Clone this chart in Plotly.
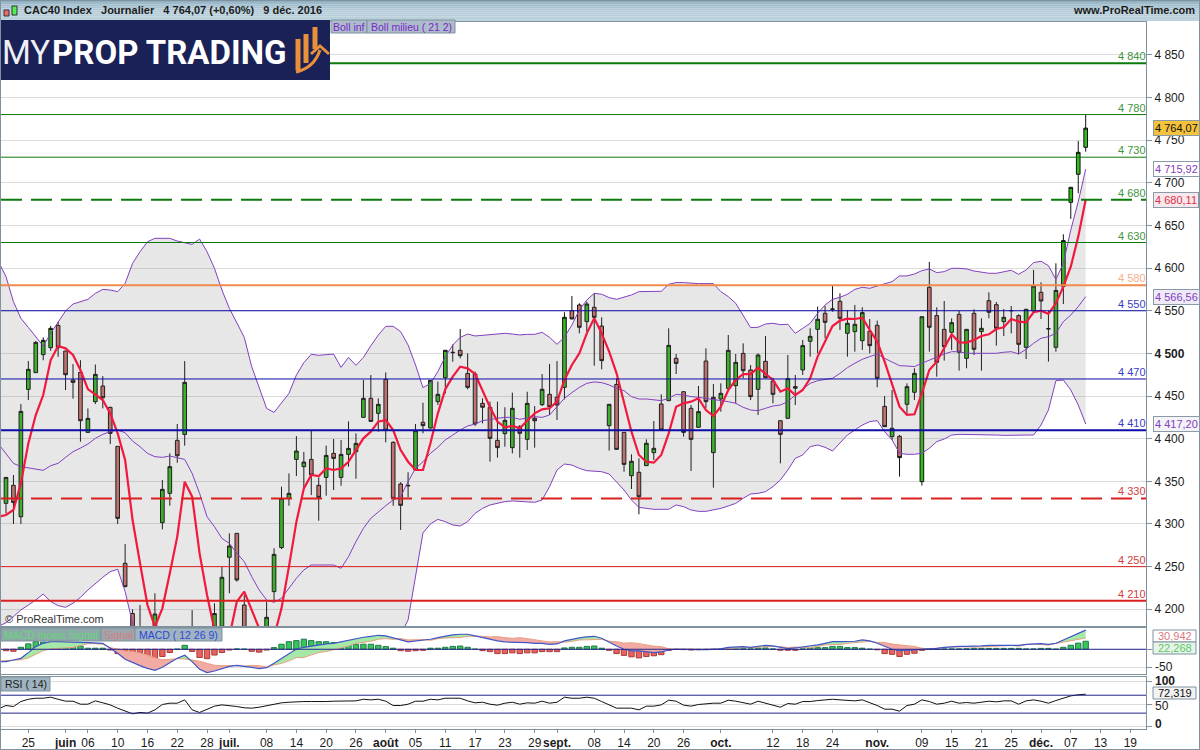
import plotly.graph_objects as go
from plotly.subplots import make_subplots

# CAC40 daily candles, one row per trading day from 20 May 2016
opens = [4324.2, 4345.3, 4308.5, 4457.8, 4477.4, 4498.5, 4506.7, 4532.8, 4502.8, 4468.8,
         4477.8, 4407.4, 4443.4, 4461.7, 4436.7, 4391, 4253.9, 4195, 4175, 4165,
         4175, 4301.5, 4335.9, 4398, 4405, 4150, 4075, 4020, 4130, 4180,
         4261, 4289, 4205, 4140, 4170, 4165, 4220.7, 4272.3, 4330, 4375.7,
         4367.2, 4375.7, 4345.3, 4354.6, 4382.8, 4354.6, 4381.6, 4384.7, 4425, 4447.3,
         4429.7, 4469.5, 4395.7, 4346.9, 4344.6, 4363.3, 4419.2, 4412.5, 4443.4, 4471.5,
         4500.8, 4503.6, 4476.6, 4475.8, 4441.4, 4436.8, 4398, 4405.9, 4389.5, 4414,
         4399.2, 4423.9, 4439.9, 4452, 4448.5, 4460.2, 4550.1, 4556.8, 4537.2, 4554,
         4532.1, 4415.3, 4463.7, 4407.4, 4356.6, 4360.6, 4368.4, 4383.6, 4440.7, 4444.6,
         4494.2, 4455.1, 4435.6, 4413.3, 4491, 4383.6, 4446.5, 4459, 4462.2, 4500,
         4480.5, 4457.9, 4490.7, 4467.6, 4421.1, 4423.9, 4459.2, 4480.6, 4514.2, 4528.2,
         4547, 4551.7, 4561, 4523.5, 4525.5, 4514.9, 4525.9, 4532.9, 4437.9, 4402.4,
         4402.8, 4440.3, 4454.4, 4349.6, 4577.5, 4544.3, 4528.2, 4524.7, 4545.8, 4494.2,
         4547, 4525.5, 4561.8, 4557.1, 4537.2, 4550, 4544.3, 4507.1, 4549.7, 4571.6,
         4528.6, 4507.1, 4578.3, 4677.1, 4710, 4741.6]
highs = [4354.6, 4357.4, 4440.6, 4491, 4514.5, 4518.8, 4532, 4537.2, 4502.8, 4487.5,
         4492, 4435.5, 4487, 4473.4, 4437.5, 4391, 4276.6, 4200, 4205, 4175,
         4218.7, 4351.5, 4382.8, 4417.2, 4491, 4199, 4080, 4100, 4207, 4250,
         4289, 4289, 4216.8, 4178, 4178, 4209, 4271.5, 4343.7, 4359.3, 4403,
         4384.4, 4409.4, 4354.6, 4391.8, 4399.6, 4398.4, 4420.3, 4406.2, 4468.8, 4474.6,
         4447.3, 4477.7, 4397, 4349, 4360.6, 4417.2, 4442.2, 4468.4, 4466.9, 4503.6,
         4510.6, 4528.6, 4500, 4478.6, 4447.3, 4443.4, 4443.4, 4436.8, 4454, 4416,
         4455, 4438.3, 4475.8, 4487.6, 4491, 4548.2, 4567.3, 4558.7, 4560.7, 4570.4,
         4542.3, 4440.3, 4470.8, 4407.4, 4381.7, 4376.9, 4399.2, 4420.7, 4452, 4529.4,
         4499.3, 4455.1, 4439.5, 4461.8, 4505.9, 4464.1, 4464.9, 4521.6, 4499.3, 4511.8,
         4486.4, 4500, 4520.4, 4471.5, 4421.1, 4498.1, 4474.7, 4515.7, 4529.4, 4554.8,
         4555.6, 4579, 4570.4, 4550.9, 4556.8, 4554, 4540.3, 4538.4, 4450, 4457,
         4404.4, 4464.9, 4482.5, 4543, 4607.2, 4554, 4561.4, 4541.1, 4550.1, 4528.2,
         4551.7, 4541.1, 4571.6, 4560.3, 4552, 4555.6, 4545.8, 4551.7, 4597.8, 4583.3,
         4550, 4605.6, 4639.6, 4694.7, 4749, 4780.3]
lows = [4312.4, 4300, 4300, 4445.3, 4477, 4492, 4503, 4496, 4457, 4446.9,
        4396.5, 4407, 4440.6, 4435.5, 4393.7, 4300, 4226, 4160, 4140, 4130,
        4160, 4293.7, 4321.4, 4371.8, 4391.8, 4050, 3955, 4010, 4120, 4170,
        4218.7, 4232.4, 4150, 4120, 4150, 4160, 4209, 4270.7, 4321.4, 4356.2,
        4341.7, 4333.9, 4303.8, 4333.2, 4339.8, 4344.9, 4367.2, 4353.1, 4425, 4420,
        4408.2, 4395.7, 4321.4, 4293, 4331.2, 4363.3, 4406.3, 4412, 4439.5, 4453,
        4490.3, 4494.2, 4457.9, 4414.9, 4418, 4373, 4377.7, 4390.6, 4382.8, 4377.7,
        4386.7, 4389.5, 4438.3, 4427.8, 4421.9, 4446.1, 4540, 4523.5, 4525.5, 4485.6,
        4481.3, 4386, 4387, 4361.3, 4341, 4311.3, 4368, 4375, 4409, 4444,
        4475.8, 4402.4, 4362.1, 4413, 4435.6, 4342.6, 4431.7, 4459, 4441.4, 4470.8,
        4445.4, 4427.8, 4470.8, 4441.4, 4371.1, 4423, 4439.5, 4474.7, 4496.2, 4500.1,
        4517.7, 4548.9, 4527.4, 4496.2, 4502, 4504, 4500.1, 4460.2, 4414, 4398.5,
        4355.5, 4427.8, 4445.4, 4345, 4502, 4472.7, 4491.5, 4504, 4479.8, 4482.5,
        4498.1, 4479.8, 4541.1, 4509.1, 4520.4, 4523.5, 4498.9, 4493.4, 4549, 4540.3,
        4490.3, 4502, 4557.9, 4657.6, 4687.7, 4736.5]
closes = [4354.6, 4325.3, 4432, 4481.3, 4512.9, 4515.3, 4529.3, 4506.7, 4475, 4466,
          4421, 4423.8, 4475.4, 4448, 4406.2, 4306.6, 4226.5, 4172, 4165, 4153,
          4194.5, 4340.6, 4367.2, 4380, 4466, 4106, 3985, 4088, 4195, 4237.5,
          4274.2, 4234.4, 4165, 4175, 4165, 4190.6, 4264.4, 4330, 4335.9, 4385.5,
          4372.6, 4357.4, 4331.2, 4380.4, 4376.9, 4381.6, 4388.6, 4394.5, 4447.3, 4420.3,
          4440.2, 4410.1, 4330, 4321.9, 4345.2, 4409.4, 4415.3, 4468.4, 4452, 4503.6,
          4501.2, 4497.3, 4460.2, 4417.2, 4436.8, 4400.4, 4389.5, 4421.5, 4435.6, 4406.3,
          4441.4, 4421, 4457.9, 4437.5, 4439.5, 4542.3, 4540.4, 4530.6, 4557.9, 4542.3,
          4491.5, 4440.3, 4387.5, 4369.9, 4373.5, 4332, 4394.6, 4388.7, 4410.2, 4509.4,
          4488.3, 4407.4, 4399.2, 4431.7, 4443.4, 4448.5, 4453.2, 4503.6, 4489.5, 4479.7,
          4449.3, 4498.1, 4471.5, 4452, 4405.1, 4470.4, 4461, 4509.1, 4520, 4540,
          4536.4, 4552, 4541.1, 4535.3, 4534.1, 4547.8, 4509.1, 4470.8, 4414.1, 4412.2,
          4377.8, 4461, 4476.6, 4543, 4530.6, 4489.5, 4507.9, 4536, 4501.3, 4528.2,
          4504.8, 4529.4, 4548.2, 4529.4, 4542.3, 4550.2, 4510.6, 4551.7, 4579, 4561.4,
          4529, 4573.9, 4632.2, 4694.7, 4735.7, 4764.07]

# Indicator lines, they start one session before the first visible candle
boll_up = [4607.5, 4590, 4560.6, 4541.1, 4530.5, 4519.6, 4508.6, 4523.5, 4537.2, 4549.7, 4557.9,
           4561, 4563.3, 4570.4, 4575, 4574.3, 4572.3, 4582.1, 4605.5, 4619.2, 4630.9,
           4634.9, 4635.2, 4634.9, 4631.7, 4629.8, 4627.8, 4634, 4619.2, 4599.7, 4574.3,
           4552.8, 4535.2, 4518.8, 4484.4, 4459, 4435.5, 4430.8, 4441.4, 4453.1, 4474.6,
           4489.1, 4498.9, 4497.7, 4498.5, 4499.2, 4483.6, 4495.3, 4486, 4495.3, 4509,
           4521.5, 4531.7, 4531.7, 4525.5, 4509.8, 4486.4, 4459.8, 4464.9, 4478.6, 4496.2,
           4509.8, 4518.8, 4522.7, 4520.4, 4521.2, 4522.3, 4523.1, 4523.5, 4522.7, 4521.6,
           4522.3, 4522.3, 4524.7, 4518.8, 4510.6, 4519, 4533.3, 4551, 4562.6, 4570.4,
           4569.3, 4565.4, 4563.4, 4565.8, 4568.5, 4572.4, 4572.8, 4572.8, 4572.8, 4581,
           4583, 4583, 4582.2, 4581.8, 4581.8, 4581.8, 4572.4, 4566.5, 4558.7, 4545,
           4530.2, 4530.6, 4534.5, 4535.3, 4533.7, 4534.1, 4523.5, 4529.4, 4535.3, 4547,
           4556.8, 4563.4, 4565.7, 4569.3, 4575.1, 4577.5, 4576.3, 4579, 4581.4, 4584.1,
           4590.8, 4590.8, 4593.1, 4597, 4599, 4594.7, 4595.8, 4599.7, 4599.7, 4599,
           4596.6, 4595.4, 4593.9, 4593.9, 4595.4, 4597.4, 4592.7, 4597.8, 4606.4, 4608,
           4602.9, 4586.8, 4605.6, 4644.7, 4677.9, 4715.92]
boll_mid = [4393.7, 4382.8, 4371.1, 4367.2, 4365.6, 4364, 4362.9, 4368.3, 4371.1, 4378.1, 4384.7,
            4389, 4393.7, 4400.4, 4405.1, 4408.2, 4410.1, 4407, 4397.2, 4390.6, 4382.8,
            4378.9, 4378.1, 4379.7, 4378.1, 4375.7, 4359.3, 4335.9, 4308.5, 4296.8, 4283.1,
            4277.3, 4265.6, 4255.9, 4238.3, 4222.6, 4210.9, 4208.2, 4212.9, 4224.6, 4236.3,
            4246.1, 4251.9, 4251.9, 4251.9, 4251.9, 4248, 4261.7, 4279.3, 4294.9, 4306.7,
            4314.4, 4321.4, 4328.1, 4332, 4349.6, 4365.2, 4373, 4382.8, 4389.9, 4398.5,
            4404.3, 4410.2, 4414.9, 4417.2, 4421.1, 4422.7, 4423.9, 4425, 4425, 4422.7,
            4423.9, 4425.8, 4425, 4427.8, 4437.5, 4447.3, 4454, 4460.2, 4464.9, 4466.5,
            4465.7, 4463, 4459, 4456.3, 4449.3, 4446.5, 4446.5, 4445.4, 4444.6, 4447.3,
            4452, 4451.2, 4449.3, 4448.5, 4447.3, 4446.5, 4445.4, 4443.4, 4441.4, 4436.8,
            4433.6, 4432.9, 4435.6, 4438.3, 4439.5, 4443.4, 4451.2, 4457.9, 4464.9, 4468,
            4469.6, 4470.8, 4476.6, 4483.3, 4488.4, 4493.1, 4496.2, 4499.3, 4494.2, 4490.3,
            4485.6, 4485.2, 4484.5, 4488.4, 4492.3, 4496.2, 4499.3, 4502, 4502, 4500.1,
            4500.1, 4500.1, 4500.1, 4500.1, 4501.3, 4502, 4499.3, 4504.8, 4511.8, 4517.7,
            4519.6, 4523.5, 4537.2, 4545, 4554.8, 4566.56]
boll_low = [4180, 4184.3, 4191.4, 4199.2, 4205, 4210.9, 4217.9, 4209, 4204.3, 4202.3, 4207,
            4214, 4222.6, 4230.4, 4237.5, 4244.1, 4246.9, 4220.7, 4183.5, 4130, 4085,
            4060, 4055, 4050, 4045, 4040, 4020, 3985, 3975, 3985, 4000,
            4010, 4020, 4040, 4060, 4070, 4080, 4090, 4100, 4110, 4120,
            4130, 4140, 4145, 4150, 4150, 4150, 4150, 4150, 4150, 4150,
            4155, 4160, 4165, 4170, 4187.5, 4240, 4289.5, 4300, 4305.4, 4302.7,
            4298.8, 4297.6, 4302.7, 4312.5, 4318.3, 4322.3, 4324.2, 4326.2, 4327, 4326.2,
            4326.2, 4325.4, 4328.1, 4343.8, 4363.3, 4370.3, 4369.1, 4365.2, 4362.5, 4362.1,
            4361.3, 4358.6, 4349.6, 4339.8, 4328.1, 4319.5, 4318.3, 4317.2, 4317.2, 4317.2,
            4322.3, 4320.3, 4316.4, 4314.8, 4314.8, 4316.4, 4318.3, 4321.1, 4324.2, 4330.1,
            4335.2, 4335.9, 4337.9, 4343.8, 4351.6, 4363.3, 4377, 4380.9, 4390.7, 4392.6,
            4389.9, 4385.6, 4394.6, 4404.3, 4410.2, 4416, 4420, 4421.2, 4408.2, 4398.5,
            4382.9, 4381.7, 4381.7, 4382.9, 4388.7, 4396.5, 4399.6, 4404.3, 4405.1, 4405.1,
            4404.3, 4404.3, 4404.3, 4404.3, 4403.9, 4404.3, 4404.3, 4404.3, 4404.3, 4416,
            4433.7, 4468, 4468.8, 4457.1, 4439.5, 4417.2]
red_ma = [4308.5, 4310.5, 4316.4, 4347.6, 4394.5, 4427.7, 4451.2, 4492.2, 4508.6, 4505.9, 4498.1,
          4480.5, 4458.2, 4451.2, 4445.3, 4429.7, 4406.2, 4375, 4304.6, 4253.9, 4205,
          4179.6, 4201.1, 4242.2, 4285.2, 4349.6, 4332, 4265.6, 4216.8, 4175.7, 4156,
          4168, 4209, 4220.7, 4199.2, 4175.7, 4156, 4168, 4201.1, 4250, 4302.4,
          4341.7, 4357.4, 4356.2, 4365.2, 4363.3, 4365.2, 4373, 4386.7, 4400.4, 4408.2,
          4419.9, 4421.9, 4410.1, 4386.7, 4373, 4363.3, 4363.3, 4394.6, 4429.7, 4457.9,
          4472.7, 4484.4, 4482.5, 4475.8, 4456.3, 4436.8, 4420, 4413.3, 4414.9, 4412.1,
          4421.1, 4429.7, 4434.4, 4435.6, 4443.4, 4468.8, 4486.4, 4500.1, 4523.5, 4541.1,
          4523.5, 4502, 4476.6, 4443.4, 4408.2, 4380.9, 4373, 4371.9, 4380.9, 4406.3,
          4437.5, 4441.4, 4443.4, 4447.3, 4433.6, 4426.6, 4437.5, 4457.1, 4468.8, 4475.8,
          4475.8, 4483.3, 4476.6, 4468.8, 4455.1, 4459, 4451.2, 4457.1, 4470.8, 4496.2,
          4513.8, 4532.1, 4538.4, 4540.7, 4540.3, 4541.9, 4527.4, 4513.8, 4490.3, 4464.9,
          4437.6, 4427.8, 4428.6, 4453.2, 4480.5, 4490.3, 4506, 4522.4, 4513, 4512.6,
          4515.7, 4520.4, 4522.4, 4528.6, 4530.6, 4540.3, 4537.2, 4536.4, 4548.2, 4550.1,
          4546.2, 4558.7, 4578.3, 4601.7, 4636.9, 4680.11]

macd = [-34.3, -34.3, -29.7, -25.1, -9.3, 7.3, 16.6, 21.2, 21.2, 21.2, 19.4,
        19.4, 18.5, 18.5, 16.6, 2.7, -11.2, -27.8, -37.1, -45.4, -52.9,
        -58.4, -50, -37.1, -25.1, -16.7, -34.3, -55.6, -64.9, -60.3, -54.7,
        -47.3, -44.5, -46.4, -50.1, -53.8, -51, -39, -25.1, -11.2, 0.9,
        5.5, 9.2, 12, 14.7, 16.6, 21.2, 25.9, 30.5, 33.3, 36,
        38.8, 37, 30.5, 25.9, 20.3, 23.1, 24, 27.7, 32.3, 37,
        39.8, 41.6, 41.6, 37, 32.3, 27.7, 23.1, 20.3, 20.3, 20.3,
        18.5, 16.6, 16.6, 13.8, 14.7, 23.1, 27.7, 31.4, 34.2, 36,
        30.5, 19.4, 9.2, 0, -4.7, -4.7, -7.5, -9.3, -7.5, -1.9,
        0, -1, -1.9, -1, -1, -1, 0.9, 5.5, 7.3, 7.3,
        5.5, 9.2, 11, 9.2, 4.6, 1.8, 3.6, 6.4, 7.3, 12,
        16.6, 21.2, 21.2, 21.2, 22.2, 25.9, 23.1, 16.6, 7.3, 0,
        -3.8, -3.8, -1.9, 0, 0.9, 2.7, 5.5, 7.3, 8.3, 8.3,
        8.3, 9.2, 11, 11, 12.9, 12.9, 11, 13.8, 15.7, 15.7,
        13.8, 16.6, 25.9, 35.1, 44.4, 53.21]
signal = [-33, -31, -29, -29, -24, -14, -4, 1, 2, 3, 5,
          10.4, 15.5, 15.5, 13.6, 4.7, 0.8, -4.8, -6, -10, -16,
          -24, -29, -28, -26, -27, -29, -33, -39, -44.3, -45.7,
          -45.3, -45.5, -46.9, -44.6, -45.8, -49, -43.6, -39.1, -32.2, -23.1,
          -22.5, -14.8, -9, -6.3, -1.9, 2.7, 8.9, 16.5, 19.3, 22,
          27.8, 29.6, 27.5, 29.9, 25.8, 27.1, 27, 24.7, 29.3, 31.5,
          31.8, 32.6, 36.1, 36.5, 36, 34.2, 35.1, 32.3, 30.3, 32.3,
          28.5, 26.6, 23.1, 20.3, 21.2, 19.4, 22.2, 25.9, 26.2, 27,
          27.5, 22.4, 21.2, 17, 18, 16, 12.5, 8.7, 7.5, 1.1,
          0.5, 0, 0.1, 0, -0.5, -0.5, 0.4, 2.5, 3.6, 4.3,
          4.5, 5.5, 7.3, 8.2, 7.3, 4.5, 6.3, 5.4, 3.6, 7.4,
          12, 13.2, 13.2, 16.6, 19, 21, 22, 19, 19, 14,
          13, 10, 8, 3, 1.4, 2.2, 4.5, 6.3, 7.3, 6.8,
          5.8, 6.7, 8.5, 8.5, 10.4, 10.4, 8.5, 12.8, 14.7, 13.2,
          11.3, 16.1, 20.4, 24.1, 27.4, 30.942]
macd_hist = [-4, -5.5, 5.5, 15, 21, 20, 20, 20, 19, 15,
             9, 3, 3, 3, -2, -12, -23, -34, -37, -37,
             -34, -20, -9, 0.5, 11, -6, -23, -26, -16, -9,
             -2, 1, 0.5, -5.5, -8, -2, 4.6, 14, 21, 24,
             28, 24, 21, 21, 18.5, 18.5, 17, 14, 14, 14,
             11, 7.4, 3, -4, -5.5, -4, -3, 3, 3, 5.5,
             8, 9, 5.5, 0.5, -3.7, -6.5, -12, -12, -10, -12,
             -10, -10, -6.5, -6.5, -6.5, 3.7, 5.5, 5.5, 8, 9,
             3, -3, -12, -17, -21, -24, -20, -18, -15, -3,
             -0.5, -1, -2, -1, -0.5, -0.5, 0.5, 3, 3.7, 3,
             1, 3.7, 3.7, 1, -2.7, -2.7, -2.7, 1, 3.7, 4.6,
             4.6, 8, 8, 4.6, 4.6, 3, 0.5, -1.5, -12, -14,
             -20, -14, -11, -3, -0.5, 0.5, 1, 1, 1, 1.5,
             2.5, 2.5, 2.5, 2.5, 2.5, 2.5, 2.5, 1, 1, 2.5,
             2.5, 0.5, 5.5, 11, 17, 22.268]
rsi = [39.6, 47, 44.8, 56, 61, 63.3, 63.3, 65.6, 61, 56.7, 56.7,
       50, 50, 57.4, 53, 48.5, 41, 35.2, 28.5, 31.5, 30,
       37.4, 49.3, 52.2, 52.2, 59.6, 37.4, 31.5, 38.9, 45.6, 48.5,
       47, 44.8, 41.9, 41.1, 43.3, 47, 50, 53, 54.4, 55.9,
       55.9, 55.9, 55.2, 55.9, 56.7, 56.7, 56.7, 57.4, 61, 59.6,
       61, 56.7, 47, 47, 50, 56.7, 56.7, 61, 59.6, 63.3,
       63.3, 63.3, 57.4, 53, 54.4, 50, 47.8, 52.2, 54.4, 50,
       53, 52.2, 56.7, 52.2, 54.4, 65.6, 63.3, 63.3, 65.6, 63.3,
       55.9, 47.8, 41.1, 41.1, 41.1, 37.4, 45.6, 45.6, 48.5, 58.9,
       56.7, 47.8, 45.6, 49.3, 51.5, 52.2, 52.2, 58.9, 56.7, 53.7,
       50, 56.7, 52.2, 49.3, 43.3, 51.5, 50, 55.9, 55.9, 58.1,
       58.9, 61, 59.6, 58.1, 57.4, 59.6, 53.7, 47, 38.9, 38.9,
       34.4, 47, 50, 59.6, 55.9, 50, 52.2, 56.7, 52.2, 53.7,
       52.2, 54.4, 56.7, 55.2, 57.4, 57.4, 50, 57.4, 59.6, 56.7,
       52.2, 58.1, 64.1, 68.5, 71, 72.319]

days = list(range(len(closes)))
line_days = list(range(-1, len(closes)))

# trading-day position of each date label on the x axis
tick_days = [3, 8, 11, 15, 19, 23, 27, 30, 35, 39, 43, 47, 51, 55, 59, 63, 67, 71, 74, 79, 83,
             87, 91, 96, 103, 107, 111, 117, 123, 127, 131, 135, 139, 143, 147, 151]
tick_labels = ["25", "<b>juin</b>", "06", "10", "16", "22", "28", "<b>juil.</b>", "08", "14",
               "20", "26", "<b>août</b>", "05", "11", "17", "23", "29", "<b>sept.</b>", "08",
               "14", "20", "26", "<b>oct.</b>", "12", "18", "24", "<b>nov.</b>", "09", "15",
               "21", "25", "<b>déc.</b>", "07", "13", "19"]
price_ticks = [4200, 4250, 4300, 4350, 4400, 4450, 4500, 4550, 4600, 4650, 4700, 4750, 4800, 4850]

# horizontal levels: value, colour, width, dash, label colour
levels = [
    (4840, "#0b7a0b", 2, "solid", "#3f9440"),
    (4780, "#0b7a0b", 1, "solid", "#3f9440"),
    (4730, "#0b7a0b", 1, "solid", "#3f9440"),
    (4680, "#0b7a0b", 2, "21px,9px", "#3f9440"),
    (4630, "#0b7a0b", 1, "solid", "#3f9440"),
    (4580, "#f08a4b", 2, "solid", "#f5b088"),
    (4550, "#0c0ca8", 1, "solid", "#3a3ac8"),
    (4470, "#0c0ca8", 1, "solid", "#3a3ac8"),
    (4410, "#0c0ca8", 2, "solid", "#3a3ac8"),
    (4330, "#dc1f1f", 2, "21px,9px", "#d24040"),
    (4250, "#dc1f1f", 1, "solid", "#d24040"),
    (4210, "#dc1f1f", 2, "solid", "#d24040"),
]

FONT = "Liberation Sans"
FRAME = "#7f929e"
PURPLE = "#8340c0"
LEFT, RIGHT, TOP, BOTTOM = 1, 1146, 22, 729


def px(x):
    """Position paper depuis un pixel horizontal."""
    return (x - LEFT) / (RIGHT - LEFT)


def py(y):
    """Position paper depuis un pixel vertical."""
    return (BOTTOM - y) / (BOTTOM - TOP)


def fr(v):
    """4764.07 -> '4 764,07'"""
    return f"{v:,.2f}".replace(",", " ").replace(".", ",")


fig = make_subplots(rows=3, cols=1, shared_xaxes=True, vertical_spacing=0.003)

# Main pane
fig.add_trace(go.Scatter(x=line_days, y=boll_low, mode="lines", line=dict(color=PURPLE, width=1)), row=1, col=1)
fig.add_trace(go.Scatter(x=line_days, y=boll_up, mode="lines", line=dict(color=PURPLE, width=1),
                         fill="tonexty", fillcolor="rgba(110,110,110,0.17)"), row=1, col=1)
fig.add_trace(go.Scatter(x=line_days, y=boll_mid, mode="lines", line=dict(color=PURPLE, width=1)), row=1, col=1)
fig.add_trace(go.Candlestick(
    x=days, open=opens, high=highs, low=lows, close=closes,
    increasing=dict(fillcolor="#33bd1d", line=dict(color="#111111", width=1)),
    decreasing=dict(fillcolor="#cf7471", line=dict(color="#111111", width=1)),
    whiskerwidth=0,
), row=1, col=1)
fig.add_trace(go.Scatter(x=line_days, y=red_ma, mode="lines", line=dict(color="#f2183e", width=2.2)), row=1, col=1)

for value, color, width, dash, label_color in levels:
    fig.add_hline(y=value, line=dict(color=color, width=width, dash=dash), row=1, col=1)
    fig.add_annotation(xref="paper", yref="y", x=px(1148), y=value, yshift=7, xanchor="right", yanchor="middle",
                       text=fr(value)[:-3], showarrow=False, font=dict(family=FONT, size=11, color=label_color))

# MACD pane: filled zones between the MACD and its signal line
start = 0
for i in range(1, len(line_days) + 1):
    if i == len(line_days) or (macd[i] >= signal[i]) != (macd[start] >= signal[start]):
        end = min(i + 1, len(line_days))
        fill = "#a5e8a8" if macd[start] >= signal[start] else "#f2aaa4"
        xs = line_days[start:end] + line_days[start:end][::-1]
        ys = macd[start:end] + signal[start:end][::-1]
        fig.add_trace(go.Scatter(x=xs, y=ys, mode="lines", line=dict(width=0), fill="toself",
                                 fillcolor=fill), row=2, col=1)
        start = i
fig.add_trace(go.Bar(
    x=days, y=macd_hist, width=0.72,
    marker=dict(color=["#37c45a" if h >= 0 else "#e9625c" for h in macd_hist],
                line=dict(color=["#1f7a4a" if h >= 0 else "#a83a3a" for h in macd_hist], width=1)),
), row=2, col=1)
fig.add_trace(go.Scatter(x=line_days, y=signal, mode="lines", line=dict(color="#e8a080", width=1)), row=2, col=1)
fig.add_trace(go.Scatter(x=line_days, y=macd, mode="lines", line=dict(color="#3f55c8", width=1.2)), row=2, col=1)
fig.add_hline(y=0, line=dict(color="#25258a", width=1), row=2, col=1)

# RSI pane
fig.add_trace(go.Scatter(x=line_days, y=rsi, mode="lines", line=dict(color="#111111", width=1)), row=3, col=1)
fig.add_hline(y=70, line=dict(color="#25258a", width=1), row=3, col=1)
fig.add_hline(y=30, line=dict(color="#25258a", width=1), row=3, col=1)

# Header band, drawn as thin strips for the gradient
band_colors = ["#8fb0c2", "#9bb9c9", "#a3bfce", "#a9c4d2", "#aec8d6", "#b2cbd8", "#b6ced9", "#b8cfda",
               "#bad1dc", "#bcd2dd"]
for k, color in enumerate(band_colors):
    fig.add_shape(type="rect", xref="paper", yref="paper", layer="above", line_width=0, fillcolor=color,
                  x0=px(0), x1=px(1200), y0=py(k * 2.1), y1=py((k + 1) * 2.1))

# Logo
fig.add_shape(type="rect", xref="paper", yref="paper", layer="above", line_width=0, fillcolor="#1a2156",
              x0=px(0), x1=px(330), y0=py(20), y1=py(80))
for x0, x1, y0, y1 in [(298, 298, 39, 70), (306, 306, 34, 63), (315, 315, 27, 49)]:
    fig.add_shape(type="line", xref="paper", yref="paper", layer="above", line=dict(color="#e8913a", width=5),
                  x0=px(x0), x1=px(x1), y0=py(y0), y1=py(y1))
fig.add_shape(type="path", xref="paper", yref="paper", layer="above", line=dict(color="#e8913a", width=3),
              path=f"M {px(296)} {py(72)} Q {px(314)} {py(68)} {px(320)} {py(50)} "
                   f"M {px(311)} {py(54)} L {px(320)} {py(46)} L {px(329)} {py(54)}")
fig.add_annotation(xref="paper", yref="paper", x=px(0), y=py(53), xanchor="left", yanchor="middle",
                   text="MY", showarrow=False, font=dict(family="Roboto", size=33, color="#f0f0f4"))
fig.add_annotation(xref="paper", yref="paper", x=px(50), y=py(53), xanchor="left", yanchor="middle",
                   text="<b>PROP TRADING</b>", showarrow=False, font=dict(family="Roboto", size=33, color="white"))

# Header icon and texts
fig.add_shape(type="rect", xref="paper", yref="paper", layer="above", fillcolor="#ee6a6a",
              line=dict(color="#333333", width=1), x0=px(4), x1=px(9), y0=py(10), y1=py(16))
fig.add_shape(type="rect", xref="paper", yref="paper", layer="above", fillcolor="#55ee55",
              line=dict(color="#333333", width=1), x0=px(12), x1=px(17), y0=py(6), y1=py(15))
fig.add_annotation(xref="paper", yref="paper", x=px(22), y=py(10), xanchor="left", yanchor="middle",
                   text="<b>CAC40 Index   Journalier   4 764,07 (+0,60%)   9 déc. 2016</b>", showarrow=False,
                   font=dict(family=FONT, size=11, color="#1c1c1c"))
fig.add_annotation(xref="paper", yref="paper", x=px(1197), y=py(10), xanchor="right", yanchor="middle",
                   text="<b>www.ProRealTime.com</b>", showarrow=False,
                   font=dict(family=FONT, size=11, color="#1c1c1c"))


def tag(x0, x1, y0, y1, text, color, fill="#9fb3c0", size=11):
    """Petit bouton de légende : rectangle + texte."""
    fig.add_shape(type="rect", xref="paper", yref="paper", layer="above", fillcolor=fill,
                  line=dict(color="#7f929e", width=1), x0=px(x0), x1=px(x1), y0=py(y0), y1=py(y1))
    fig.add_annotation(xref="paper", yref="paper", x=px((x0 + x1) / 2), y=py((y0 + y1) / 2),
                       xanchor="center", yanchor="middle", text=text, showarrow=False,
                       font=dict(family=FONT, size=size, color=color))


tag(331, 367, 20, 33, "Boll inf", "#7a28c8", fill="#adbccb", size=10.5)
tag(367, 455, 20, 33, "Boll milieu ( 21 2)", "#7a28c8", fill="#adbccb", size=10.5)
tag(1, 101, 628, 641, "MACD moins Signal", "#64d878", fill="#8ea8aa", size=10.5)
tag(101, 135, 628, 641, "Signal", "#d87a80", fill="#9aa8ae", size=10.5)
tag(135, 222, 628, 641, "MACD ( 12 26 9)", "#3048d8", fill="#9fb3c0", size=10.5)
tag(1, 50, 677, 691, "RSI ( 14)", "#1c1c1c", fill="#9fb3c0", size=10.5)

fig.add_annotation(xref="paper", yref="paper", x=px(3), y=py(619), xanchor="left", yanchor="middle",
                   text="© ProRealTime.com", showarrow=False, font=dict(family=FONT, size=11, color="#333333"))

# Value boxes at the right of the main pane
for value, text_color, fill in [(4764.07, "#111111", "#f4c23c"), (4715.92, PURPLE, "#ffffff"),
                                (4680.11, "#e0304a", "#f6e8ec"), (4566.56, PURPLE, "#eeeaf6"),
                                (4417.20, PURPLE, "#f4f4f8")]:
    fig.add_annotation(xref="paper", yref="y", x=px(1153), y=value, xanchor="left", yanchor="middle",
                       text=fr(value), showarrow=False, bgcolor=fill, bordercolor="#8a9aa6", borderwidth=1,
                       borderpad=1, font=dict(family=FONT, size=11, color=text_color))

tag(1153, 1196, 630, 642, "30,942", "#d87a80", fill="#ffffff", size=11)
tag(1153, 1196, 642, 654, "22,268", "#58c868", fill="#e8f4e8", size=11)
for text, y, bold in [("-50", 667, False), ("100", 681, True), ("50", 706, False), ("0", 724, True)]:
    fig.add_annotation(xref="paper", yref="paper", x=px(1153), y=py(y), xanchor="left", yanchor="middle",
                       text=f"<b>{text}</b>" if bold else text, showarrow=False,
                       font=dict(family=FONT, size=12, color="#1c1c1c"))
tag(1153, 1196, 687, 699, "72,319", "#111111", fill="#f2f2f2", size=11)

# outer frame of the page
fig.add_shape(type="rect", xref="paper", yref="paper", layer="above", line=dict(color=FRAME, width=2),
              x0=px(0), x1=px(1200), y0=py(750), y1=py(0))

axis_style = dict(showline=True, linecolor=FRAME, linewidth=1, mirror=True, zeroline=False, side="right",
                  gridcolor="#dcdcdc", gridwidth=1, ticks="outside", ticklen=5, tickcolor=FRAME,
                  tickfont=dict(family=FONT, size=12, color="#1c1c1c"))

fig.update_layout(
    width=1200, height=750,
    margin=dict(l=LEFT, r=1200 - RIGHT, t=TOP, b=750 - BOTTOM),
    plot_bgcolor="white", paper_bgcolor="white",
    showlegend=False, barmode="overlay",
    xaxis_rangeslider_visible=False,
    yaxis=dict(domain=[py(626), py(22)], range=[4180.4, 4888.5], tickvals=price_ticks,
               ticktext=[f"<b>{fr(t)[:-3]}</b>" if t == 4500 else fr(t)[:-3] for t in price_ticks],
               **axis_style),
    yaxis2=dict(domain=[py(674), py(628)], range=[-68.6, 59], tickvals=[-50, 0], showticklabels=False,
                **axis_style),
    yaxis3=dict(domain=[py(729), py(677)], range=[-5.4, 110.7], tickvals=[0, 50, 100], showticklabels=False,
                **axis_style),
)
fig.update_xaxes(range=[-0.67, 153.1], showgrid=False, showline=True, linecolor=FRAME, mirror=True, zeroline=False,
                 tickvals=tick_days, ticktext=tick_labels, tickangle=0)
fig.update_xaxes(ticks="outside", ticklen=3, tickcolor=FRAME,
                 tickfont=dict(family=FONT, size=12, color="#1c1c1c"), row=3, col=1)

fig.write_html("out.html", config=dict(displayModeBar=False),
               post_script="document.body.style.margin='0';")
